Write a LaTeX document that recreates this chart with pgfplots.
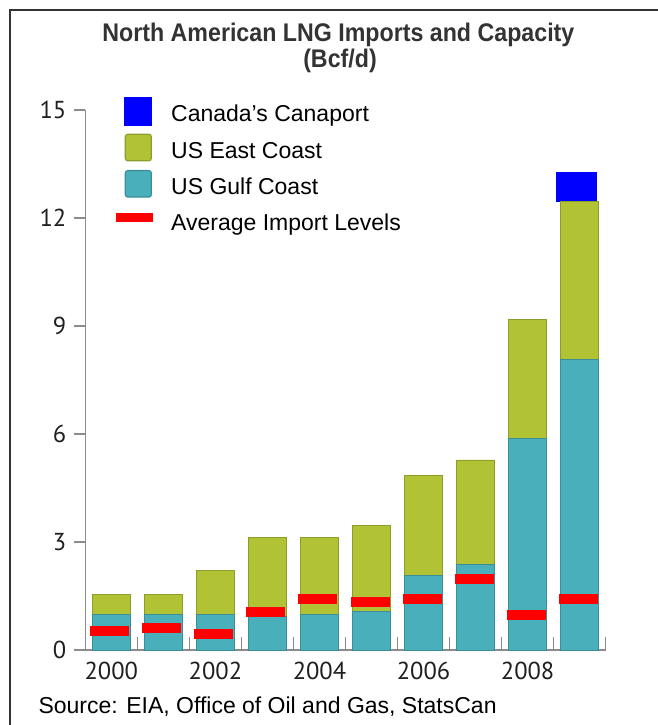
\documentclass[border=0pt]{standalone}
\usepackage{fontspec}
\setmainfont{Liberation Sans}
\newfontfamily\titlefont{Liberation Sans}[FakeStretch=0.91]
\newfontfamily\tickfont{PT Sans}
\usepackage{pgfplots}
\pgfplotsset{compat=1.18}
\definecolor{gulf}{HTML}{48AFBB}
\definecolor{gulfedge}{HTML}{3A8E99}
\definecolor{east}{HTML}{B2C235}
\definecolor{eastedge}{HTML}{8E9C2A}
\definecolor{axisgray}{HTML}{8C8C8C}
\definecolor{txt}{HTML}{333333}
\begin{document}
\begin{tikzpicture}[x=1pt,y=1pt]
\useasboundingbox (0,0) rectangle (658,725);
\draw[txt, line width=1.3pt] (10,-5) -- (10,715) -- (665,715);
\node[anchor=base, font=\titlefont\bfseries\fontsize{25.5}{28}\selectfont, text=txt] at (338.4,683.3) {North American LNG Imports and Capacity};
\node[anchor=base, font=\titlefont\bfseries\fontsize{25.5}{28}\selectfont, text=txt] at (340,657) {(Bcf/d)};
\node[anchor=base west, inner sep=0pt, font=\fontsize{23}{27}\selectfont] at (38.3,11) {Source: EIA, Office of Oil and Gas, StatsCan};
\begin{axis}[
  at={(85.3pt,75pt)}, anchor=south west,
  scale only axis, width=520.4pt, height=540pt,
  xmin=1999.5, xmax=2009.5, ymin=0, ymax=15,
  ybar stacked, bar width=38pt,
  clip=false,
  axis x line*=bottom, axis y line*=left,
  axis line style={draw=axisgray, line width=1.5pt},
  every tick/.style={draw=axisgray, line width=1.5pt},
  xtick={2000,2002,2004,2006,2008},
  xticklabels={2000,2002,2004,2006,2008},
  major x tick style={draw=none},
  minor xtick={2000.5,2001.5,2002.5,2003.5,2004.5,2005.5,2006.5,2007.5,2008.5,2009.5},
  minor tick length=13pt,
  xtick align=inside,
  ytick={0,3,6,9,12,15},
  ytick align=outside,
  major tick length=11pt,
  /pgf/number format/assume math mode=true,
  ticklabel style={font=\tickfont\fontsize{24.5}{28}\selectfont, text=black!88},
  xticklabel style={yshift=-9pt},
  yticklabel style={xshift=-4.5pt},
  legend style={at={(0.0488,1.0237)}, anchor=north west, draw=none, fill=none,
    inner sep=0pt, outer sep=0pt, row sep=8.6pt, column sep=13.5pt,
    font=\fontsize{23}{27}\selectfont,
    nodes={inner sep=0pt, text height=24.5pt, text depth=3pt}},
  legend cell align=left,
]
\addlegendimage{legend image code/.code={\fill[blue] (0pt,-13.75pt) rectangle (27pt,13.75pt);}}
\addlegendentry{Canada’s Canaport}
\addlegendimage{legend image code/.code={\draw[draw=eastedge, fill=east, line width=1.2pt, rounded corners=2.5pt] (1.5pt,-13.25pt) rectangle (27.5pt,13.25pt);}}
\addlegendentry{US East Coast}
\addlegendimage{legend image code/.code={\draw[draw=gulfedge, fill=gulf, line width=1.2pt, rounded corners=2.5pt] (1.5pt,-13.25pt) rectangle (27.5pt,13.25pt);}}
\addlegendentry{US Gulf Coast}
\addlegendimage{legend image code/.code={\draw[red, line width=9.7pt] (-8.3pt,2.45pt) -- (29pt,2.45pt);}}
\addlegendentry{Average Import Levels}
% US Gulf Coast
\addplot[fill=gulf, draw=gulfedge, line width=0.8pt, forget plot] coordinates {
 (2000,0.99) (2001,0.99) (2002,0.99) (2003,0.92) (2004,0.98)
 (2005,1.08) (2006,2.08) (2007,2.38) (2008,5.87) (2009,8.07)};
% US East Coast
\addplot[fill=east, draw=eastedge, line width=0.8pt, forget plot] coordinates {
 (2000,0.56) (2001,0.56) (2002,1.21) (2003,2.20) (2004,2.14)
 (2005,2.37) (2006,2.78) (2007,2.90) (2008,3.30) (2009,4.38)};
% Canada's Canaport
\addplot[fill=blue, draw=none, bar width=40.7pt, bar shift=-3.4pt, forget plot] coordinates {
 (2000,0) (2001,0) (2002,0) (2003,0) (2004,0)
 (2005,0) (2006,0) (2007,0) (2008,0) (2009,0.82)};
\end{axis}
\begin{axis}[
  at={(85.3pt,75pt)}, anchor=south west,
  scale only axis, width=520.4pt, height=540pt,
  xmin=1999.5, xmax=2009.5, ymin=0, ymax=15,
  hide axis, clip=false,
]
% Average import levels
\addplot[only marks, mark=-, color=red, mark size=19.5pt,
  mark options={line width=9.7pt, xshift=-1.5pt}] coordinates {
 (2000,0.53) (2001,0.62) (2002,0.44) (2003,1.06) (2004,1.42)
 (2005,1.33) (2006,1.42) (2007,1.98) (2008,0.97) (2009,1.42)};
\end{axis}
\end{tikzpicture}
\end{document}
